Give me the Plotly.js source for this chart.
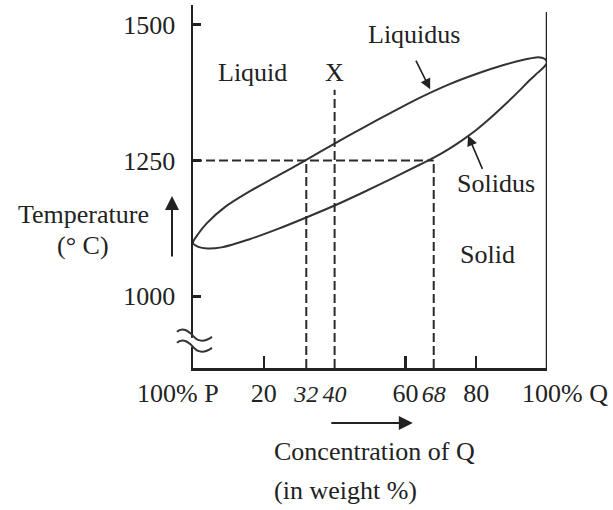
<!DOCTYPE html>
<html><head><meta charset="utf-8">
<script src="https://cdn.plot.ly/plotly-3.0.1.min.js"></script>
<style>html,body{margin:0;padding:0;background:#fff;}#chart{width:613px;height:510px;}</style>
</head><body><div id="chart"></div>
<script>
const FONT = "'Liberation Serif', 'Times New Roman', serif";
const INK = '#222';
const FS = 26;

// Liquidus curve (composition % Q, temperature °C)
const liqX = [0, 1.5, 4, 9, 16, 24, 32, 40, 48, 56, 64, 72, 80, 88, 94, 97.5, 99.3, 100];
const liqT = [1098, 1115, 1135, 1164, 1193, 1222, 1251, 1281, 1310, 1338, 1365, 1389, 1409, 1426, 1436, 1440, 1437, 1430];
// Solidus curve
const solX = [0, 1.5, 4, 8, 16, 24, 32, 40, 48, 56, 64, 68, 72, 76, 80, 84, 88, 92, 95, 97.5, 99.3, 100];
const solT = [1098, 1091, 1088, 1090, 1105, 1124, 1145, 1167, 1191, 1216, 1242, 1255, 1270, 1287, 1306, 1328, 1352, 1377, 1397, 1412, 1423, 1430];

// Construction lines
const tieT = 1250;             // tie-line temperature
const liqComp = 32;            // liquid composition at 1250
const solComp = 68;            // solid composition at 1250
const alloyX = 40;             // alloy X composition
const alloyTopT = 1380;        // top of the X line
const yMin = 868, yMax = 1536; // axis range
const pureQTopT = 1523;        // top of the 100% Q line

const yTicks = [1000, 1250, 1500];
const xTicks = [20, 60, 80];
const xItalicTicks = [32, 40, 68];

// closed loop: liquidus left->right, solidus right->left
const loopX = liqX.concat(solX.slice(0, -1).reverse());
const loopT = liqT.concat(solT.slice(0, -1).reverse());

const dashLine = {color: '#2a2a2a', width: 2, dash: '9px,4px'};
const traces = [
  {x: loopX, y: loopT, mode: 'lines', xaxis: 'x', yaxis: 'y',
   line: {color: '#333', width: 2, shape: 'spline', smoothing: 0.9}, hoverinfo: 'skip'},
  {x: [0, solComp], y: [tieT, tieT], mode: 'lines', xaxis: 'x2', yaxis: 'y', line: dashLine},
  {x: [liqComp, liqComp], y: [yMin, tieT], mode: 'lines', xaxis: 'x2', yaxis: 'y', line: dashLine},
  {x: [solComp, solComp], y: [yMin, tieT], mode: 'lines', xaxis: 'x2', yaxis: 'y', line: dashLine},
  {x: [alloyX, alloyX], y: [yMin, alloyTopT], mode: 'lines', xaxis: 'x2', yaxis: 'y', line: dashLine},
  {x: [100, 100], y: [yMin, pureQTopT], mode: 'lines', xaxis: 'x', yaxis: 'y',
   line: {color: INK, width: 2.5}}
];

const tf = {family: FONT, size: FS, color: INK};
function txt(text, x, y, extra) {
  return Object.assign({text: text, x: x, y: y, xref: 'x', yref: 'y', showarrow: false,
    xanchor: 'center', yanchor: 'middle', font: tf}, extra || {});
}
function arrow(x, y, ax, ay, extra) {
  return Object.assign({text: '', x: x, y: y, xref: 'x', yref: 'y', ax: ax, ay: ay, showarrow: true,
    arrowhead: 2, arrowsize: 1.3, arrowwidth: 1.6, arrowcolor: INK}, extra || {});
}

const annotations = [
  txt('100% P', 0, 0, {yref: 'paper', xshift: -15, yshift: -25}),
  txt('100% Q', 100, 0, {yref: 'paper', xshift: 18, yshift: -25}),
  txt('Temperature', -0.3107, 0.4242, {xref: 'paper', yref: 'paper'}),
  txt('(° C)', -0.3107, 0.3388, {xref: 'paper', yref: 'paper'}),
  arrow(-0.0593, 0.4738, 0, 62, {xref: 'paper', yref: 'paper', arrowwidth: 2, arrowsize: 1.4}),
  txt('Concentration of Q', 22.3, -0.2314, {yref: 'paper', xanchor: 'left'}),
  txt('(in weight %)', 22.3, -0.3361, {yref: 'paper', xanchor: 'left'}),
  arrow(62.1, -0.1515, -83, 0, {yref: 'paper', arrowwidth: 2, arrowsize: 1.4}),
  txt('Liquid', 16.9, 1411),
  txt('X', alloyX, 1411),
  txt('Liquidus', 62.4, 1481),
  arrow(67, 1381, -15, -30),
  txt('Solidus', 85.6, 1208),
  arrow(77.7, 1296, 15, 35),
  txt('Solid', 83.3, 1076)
];

const breakY = 918;
const shapes = [
  {type: 'rect', layer: 'above', xref: 'paper', xsizemode: 'pixel', xanchor: 0, x0: -5, x1: 5,
   yref: 'y', ysizemode: 'pixel', yanchor: breakY, y0: -6, y1: 3,
   fillcolor: '#fff', line: {width: 0}},
  {type: 'path', layer: 'above', xref: 'paper', xsizemode: 'pixel', xanchor: 0,
   yref: 'y', ysizemode: 'pixel', yanchor: breakY,
   path: 'M -16,9 C -12,13 -6,12 0,5 S 12,-1 19,4', line: {color: '#333', width: 2}},
  {type: 'path', layer: 'above', xref: 'paper', xsizemode: 'pixel', xanchor: 0,
   yref: 'y', ysizemode: 'pixel', yanchor: breakY,
   path: 'M -16,-2 C -12,2 -6,1 0,-6 S 12,-12 19,-7', line: {color: '#333', width: 2}}
];

const layout = {
  width: 613, height: 510,
  margin: {l: 193, r: 66, t: 5, b: 142, pad: 0},
  paper_bgcolor: '#fff', plot_bgcolor: '#fff',
  showlegend: false,
  font: {family: FONT, color: INK},
  xaxis: {range: [0, 100], tickvals: xTicks, ticktext: xTicks.map(String), tickangle: 0,
    ticks: 'inside', ticklen: 12, tickwidth: 2.5, tickcolor: INK,
    showline: true, linewidth: 2.5, linecolor: INK, showgrid: false, zeroline: false,
    tickfont: tf, ticklabelstandoff: 0, fixedrange: true},
  xaxis2: {range: [0, 100], overlaying: 'x', anchor: 'y', side: 'bottom', tickangle: 0,
    tickvals: xItalicTicks, ticktext: xItalicTicks.map(v => '<i>' + v + '</i>'),
    ticks: '', showline: false, showgrid: false, zeroline: false,
    tickfont: {family: FONT, size: 24, color: INK}, ticklabelstandoff: 9, fixedrange: true},
  yaxis: {range: [yMin, yMax], tickvals: yTicks, ticktext: yTicks.map(String),
    ticks: 'inside', ticklen: 8, tickwidth: 2.5, tickcolor: INK,
    showline: true, linewidth: 2.5, linecolor: INK, showgrid: false, zeroline: false,
    tickfont: tf, ticklabelstandoff: 10, fixedrange: true},
  annotations: annotations,
  shapes: shapes
};

Plotly.newPlot('chart', traces, layout, {staticPlot: true, displayModeBar: false});
</script></body></html>
